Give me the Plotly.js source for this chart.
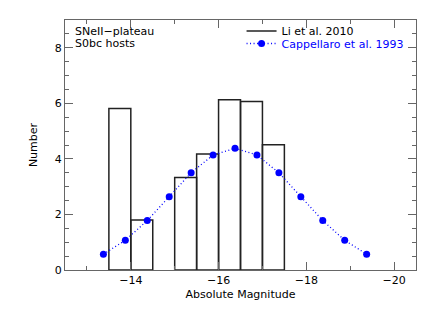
<!DOCTYPE html>
<html><head><meta charset="utf-8">
<script src="https://cdn.plot.ly/plotly-3.0.1.min.js"></script>
<style>body{margin:0;background:#fff}#c{width:436px;height:312px}</style>
</head><body><div id="c"></div>
<script>
// Li et al. 2010 histogram (bin centers, width 0.5 mag)
const binCenters = [-13.75, -14.25, -14.75, -15.25, -15.75, -16.25, -16.75, -17.25];
const binCounts  = [5.81, 1.80, null, 3.33, 4.18, 6.13, 6.07, 4.51];
// Cappellaro et al. 1993 points
const capMag = [-13.375, -13.875, -14.375, -14.875, -15.375, -15.875, -16.375, -16.875, -17.375, -17.875, -18.375, -18.875, -19.375];
const capNum = [0.57, 1.07, 1.78, 2.64, 3.50, 4.14, 4.38, 4.14, 3.50, 2.64, 1.78, 1.07, 0.57];
const xTickVals = [-14, -16, -18, -20];
const yTickVals = [0, 2, 4, 6, 8];

const fontFam = 'DejaVu Sans, sans-serif';
const traces = [
  {type:'bar', x:binCenters, y:binCounts, width:0.5, name:'Li et al. 2010',
   marker:{color:'rgba(255,255,255,0)', line:{color:'#222', width:1.5}}, showlegend:false},
  {type:'scatter', mode:'lines', x:[null], y:[null], name:'Li et al. 2010',
   line:{color:'#222', width:1.5}, legend:'legend'},
  {type:'scatter', mode:'lines+markers', x:capMag, y:capNum,
   name:'<span style="color:#0000ff">Cappellaro et al. 1993</span>',
   line:{color:'#0000ff', width:1.3, dash:'1px,2.5px'}, marker:{color:'#0000ff', size:7},
   legend:'legend2'}
];
const axBase = {showgrid:false, zeroline:false, showline:true, linecolor:'#666', linewidth:1,
  mirror:'ticks', ticks:'inside', tickcolor:'#666', ticklen:8, tickwidth:1,
  tickfont:{family:fontFam, size:11, color:'#000'}};
const legBase = {x:0.503, xanchor:'left', yanchor:'middle', bgcolor:'rgba(0,0,0,0)',
  font:{family:fontFam, size:11}, itemwidth:30};
const layout = {
  width:436, height:312, margin:{l:65, r:20, t:20, b:42},
  paper_bgcolor:'#fff', plot_bgcolor:'#fff', font:{family:fontFam, size:11, color:'#000'},
  barmode:'overlay',
  xaxis:Object.assign({}, axBase, {range:[-12.5, -20.5], tickvals:xTickVals,
    minor:{dtick:1, ticks:'inside', ticklen:4, tickcolor:'#666'},
    title:{text:'Absolute Magnitude', font:{family:fontFam, size:11}, standoff:4}}),
  yaxis:Object.assign({}, axBase, {range:[0, 9], tickvals:yTickVals,
    minor:{dtick:0.5, ticks:'inside', ticklen:4, tickcolor:'#666'},
    title:{text:'Number', font:{family:fontFam, size:11}, standoff:14}}),
  legend:Object.assign({}, legBase, {y:0.956}),
  legend2:Object.assign({}, legBase, {y:0.906}),
  annotations:[
    {xref:'paper', yref:'paper', x:0.022, y:0.956, xanchor:'left', yanchor:'middle',
     showarrow:false, text:'SNeII−plateau', font:{family:fontFam, size:11}},
    {xref:'paper', yref:'paper', x:0.022, y:0.904, xanchor:'left', yanchor:'middle',
     showarrow:false, text:'S0bc hosts', font:{family:fontFam, size:11}}]
};
Plotly.newPlot('c', traces, layout, {displayModeBar:false, staticPlot:true});
</script></body></html>
